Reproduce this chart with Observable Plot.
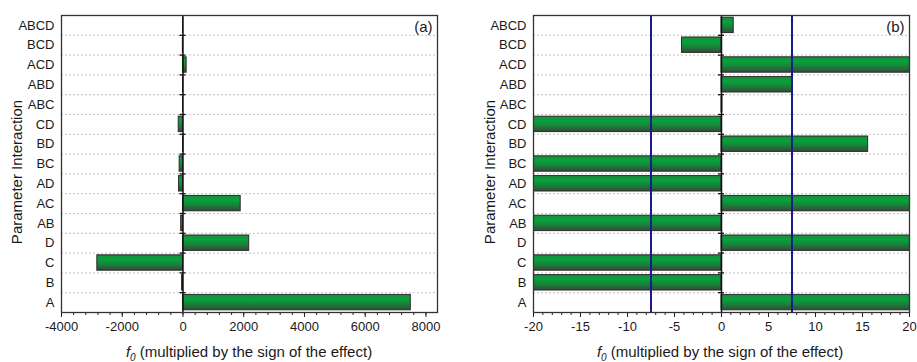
<!DOCTYPE html>
<html>
<head>
<meta charset="utf-8">
<script src="https://cdn.jsdelivr.net/npm/d3@7"></script>
<script src="https://cdn.jsdelivr.net/npm/@observablehq/plot@0.6"></script>
<style>
  html, body { margin: 0; padding: 0; background: #fff; }
  #wrap { position: relative; width: 917px; height: 362px; overflow: hidden; font-family: "Liberation Sans", Arial, sans-serif; color: #1a1a1a; }
  .panel { position: absolute; top: 0; }
  .xlab { position: absolute; top: 343px; font-size: 15px; white-space: nowrap; transform: translateX(-50%); }
  .xlab sub { font-size: 10px; }
  .ylab { position: absolute; font-size: 15px; white-space: nowrap; transform: translate(-50%, -50%) rotate(-90deg); }
</style>
</head>
<body>
<div id="wrap"></div>
<script>
// Categories from bottom (A) to top (ABCD)
const categories = ["A", "B", "C", "D", "AB", "AC", "AD", "BC", "BD", "CD", "ABC", "ABD", "ACD", "BCD", "ABCD"];
// f0 multiplied by the sign of the effect
const effects = [7500, -30, -2820, 2180, -60, 1900, -130, -110, 15.6, -140, 0.1, 7.6, 120, -4.2, 1.3];
const ticksA = [-4000, -2000, 0, 2000, 4000, 6000, 8000];
const minorA = d3.range(-4000, 8001, 400);
const ticksB = [-20, -15, -10, -5, 0, 5, 10, 15, 20];
const minorB = d3.range(-20, 21, 1);
const thresholds = [-7.5, 7.5];
const panelLabels = ["(a)", "(b)"];

const rows = categories.map((c, i) => ({i, cat: c, v: effects[i]}));
const bounds = d3.range(categories.length - 1).map(i => i + 0.5);

function panel({width, marginLeft, marginRight, domain, ticks, minor, label, gradId, extra}) {
  const svg = Plot.plot({
    width, height: 362,
    marginLeft, marginRight, marginTop: 15, marginBottom: 50,
    x: {domain},
    y: {domain: [-0.5, categories.length - 0.5]},
    style: {fontFamily: "Liberation Sans, Arial, sans-serif", fontSize: "13px", color: "#1a1a1a", background: "white"},
    marks: [
      Plot.ruleY(bounds, {stroke: "#c4c4c4", strokeDasharray: "2,2", strokeWidth: 1}),
      Plot.rect(rows, {x1: 0, x2: "v", y1: d => d.i - 0.5, y2: d => d.i + 0.5, insetTop: 2.2, insetBottom: 2.2,
        fill: `url(#${gradId})`, stroke: "#2b2b2b", strokeWidth: 1, clip: true}),
      ...(extra ? [Plot.ruleX(thresholds, {stroke: "#1a1a8e", strokeWidth: 2})] : []),
      Plot.ruleX([0], {stroke: "#111", strokeWidth: 1.5}),
      Plot.ruleY(bounds, {x1: 0, x2: 0, insetLeft: -3, insetRight: -3, stroke: "#111", strokeWidth: 1.3}),
      Plot.axisX({ticks: minor, tickSize: 3, tickFormat: () => "", label: null, stroke: "#222"}),
      Plot.axisX({ticks, tickSize: 5, tickPadding: 4, label: null, stroke: "#222", tickFormat: d => String(d).replace("\u2212", "-")}),
      Plot.axisY({ticks: d3.range(categories.length), tickFormat: i => categories[i], tickSize: 0, tickPadding: 7, label: null}),
      Plot.frame({stroke: "#333", strokeWidth: 1.3}),
      Plot.text([label], {frameAnchor: "top-right", dx: -5, dy: 6, fontSize: 15, fill: "#1a1a1a"})
    ]
  });
  const defs = d3.select(svg).insert("defs", ":first-child");
  const g = defs.append("linearGradient").attr("id", gradId).attr("x1", 0).attr("y1", 0).attr("x2", 0).attr("y2", 1);
  [[0, "#1d8a3c"], [0.3, "#05a33d"], [0.6, "#17853a"], [1, "#354a3a"]].forEach(([o, c]) =>
    g.append("stop").attr("offset", o).attr("stop-color", c));
  return svg;
}

const wrap = document.getElementById("wrap");

const left = panel({width: 458, marginLeft: 61, marginRight: 21, domain: [-4000, 8380], ticks: ticksA, minor: minorA, label: panelLabels[0], gradId: "gA", extra: false});
left.classList.add("panel");
left.style.left = "0px";
wrap.appendChild(left);

const right = panel({width: 459, marginLeft: 75, marginRight: 8, domain: [-20, 20], ticks: ticksB, minor: minorB, label: panelLabels[1], gradId: "gB", extra: true});
right.classList.add("panel");
right.style.left = "458px";
wrap.appendChild(right);

function addText(html, cls, x, y) {
  const d = document.createElement("div");
  d.className = cls;
  d.innerHTML = html;
  d.style.left = x + "px";
  if (y != null) d.style.top = y + "px";
  wrap.appendChild(d);
}
const xTitle = "<i>f</i><sub><i>0</i></sub> (multiplied by the sign of the effect)";
const yTitle = "Parameter Interaction";
addText(xTitle, "xlab", 249, null);
addText(xTitle, "xlab", 720, null);
addText(yTitle, "ylab", 16, 172);
addText(yTitle, "ylab", 489, 172);
</script>
</body>
</html>
